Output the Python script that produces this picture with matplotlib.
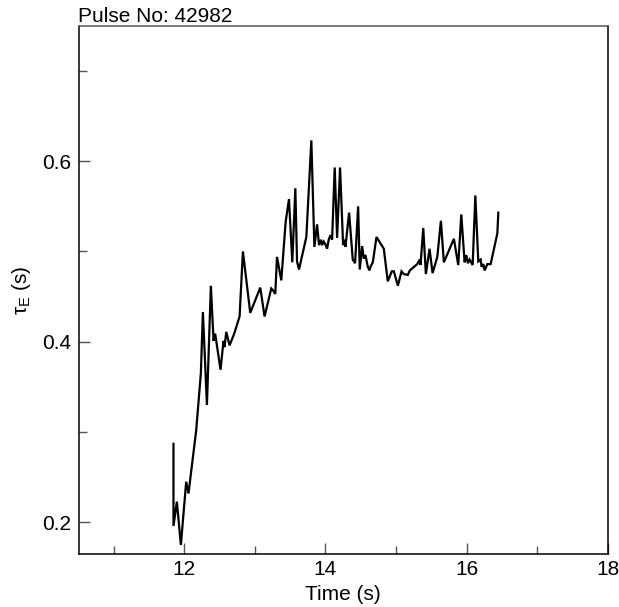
import matplotlib
matplotlib.use("Agg")
import matplotlib.pyplot as plt
from matplotlib.ticker import MultipleLocator

plt.rcParams["font.family"] = ["Liberation Sans", "DejaVu Sans"]
plt.rcParams["mathtext.fontset"] = "custom"
plt.rcParams["mathtext.rm"] = "Liberation Sans"

pulse_no = 42982

time_s = [
    11.846, 11.846, 11.894, 11.951, 12.026, 12.059, 12.168, 12.234, 12.263, 12.320,
    12.376, 12.414, 12.437, 12.513, 12.555, 12.570, 12.594, 12.641, 12.707, 12.783,
    12.830, 12.934, 13.076, 13.137, 13.232, 13.256, 13.289, 13.313, 13.374, 13.436,
    13.483, 13.530, 13.573, 13.597, 13.625, 13.729, 13.800, 13.843, 13.881, 13.909,
    13.937, 13.952, 13.975, 13.999, 14.023, 14.046, 14.070, 14.094,
    14.131, 14.165, 14.207, 14.250, 14.273, 14.283, 14.335, 14.387, 14.420, 14.463,
    14.486, 14.520, 14.543, 14.567, 14.600, 14.624, 14.638, 14.671, 14.723, 14.827,
    14.883, 14.940, 14.969, 15.026, 15.078, 15.110, 15.167, 15.196, 15.300, 15.337,
    15.347, 15.386, 15.423, 15.475, 15.518, 15.585, 15.636, 15.678, 15.820, 15.882,
    15.925, 15.972, 15.996, 16.019, 16.043, 16.086, 16.124, 16.166, 16.199, 16.213,
    16.237, 16.256, 16.294, 16.341, 16.436, 16.450,
]
tau_e = [
    0.287, 0.196, 0.223, 0.175, 0.245, 0.232, 0.302, 0.365, 0.433, 0.330,
    0.462, 0.401, 0.409, 0.369, 0.401, 0.394, 0.411, 0.396, 0.409, 0.428,
    0.500, 0.432, 0.460, 0.428, 0.459, 0.457, 0.453, 0.494, 0.468, 0.533,
    0.558, 0.488, 0.570, 0.489, 0.480, 0.516, 0.623, 0.505, 0.530, 0.507,
    0.513, 0.507, 0.511, 0.508, 0.503, 0.513, 0.518, 0.513,
    0.593, 0.515, 0.593, 0.507, 0.513, 0.505, 0.543, 0.491, 0.487, 0.550,
    0.480, 0.506, 0.492, 0.496, 0.483, 0.479, 0.483, 0.488, 0.516, 0.503,
    0.467, 0.478, 0.478, 0.462, 0.478, 0.475, 0.474, 0.479, 0.486, 0.491,
    0.485, 0.526, 0.475, 0.503, 0.476, 0.494, 0.534, 0.488, 0.514, 0.485,
    0.541, 0.488, 0.496, 0.487, 0.491, 0.485, 0.562, 0.489, 0.491, 0.483,
    0.486, 0.479, 0.486, 0.486, 0.520, 0.543,
]

x_major = [12, 14, 16, 18]
y_major = [0.2, 0.4, 0.6]

fig = plt.figure(figsize=(6.19, 6.07), dpi=100)
ax = fig.add_axes([78.5 / 619, 1 - 554 / 607, 529.2 / 619, 528.3 / 607])

ax.plot(time_s, tau_e, color="black", lw=1.6, solid_joinstyle="miter")

ax.set_xlim(10.5, 18)
ax.set_ylim(0.165, 0.75)
ax.set_xticks(x_major)
ax.set_xticklabels([f"{v:d}" for v in x_major])
ax.set_yticks(y_major)
ax.set_yticklabels([f"{v:.1f}" for v in y_major])
ax.xaxis.set_minor_locator(MultipleLocator(1))
ax.yaxis.set_minor_locator(MultipleLocator(0.1))

ax.tick_params(which="both", direction="in", color="#555555", width=1.0,
               labelsize=15, top=False, right=False)
ax.tick_params(which="major", length=8)
ax.tick_params(which="minor", length=5.5)
ax.tick_params(axis="x", pad=4)
ax.tick_params(axis="y", pad=5)

for side in ["left", "bottom", "top", "right"]:
    ax.spines[side].set_linewidth(1.1)
    ax.spines[side].set_color("black")
ax.spines["top"].set_color("#555555")

ax.set_xlabel("Time (s)", fontsize=15, labelpad=5)
ax.set_ylabel("τ$_\\mathrm{E}$ (s)", fontsize=15, labelpad=7)
ax.set_title(f"Pulse No: {pulse_no}", loc="left", fontsize=15, pad=2)

fig.savefig("out.png", dpi=100)
